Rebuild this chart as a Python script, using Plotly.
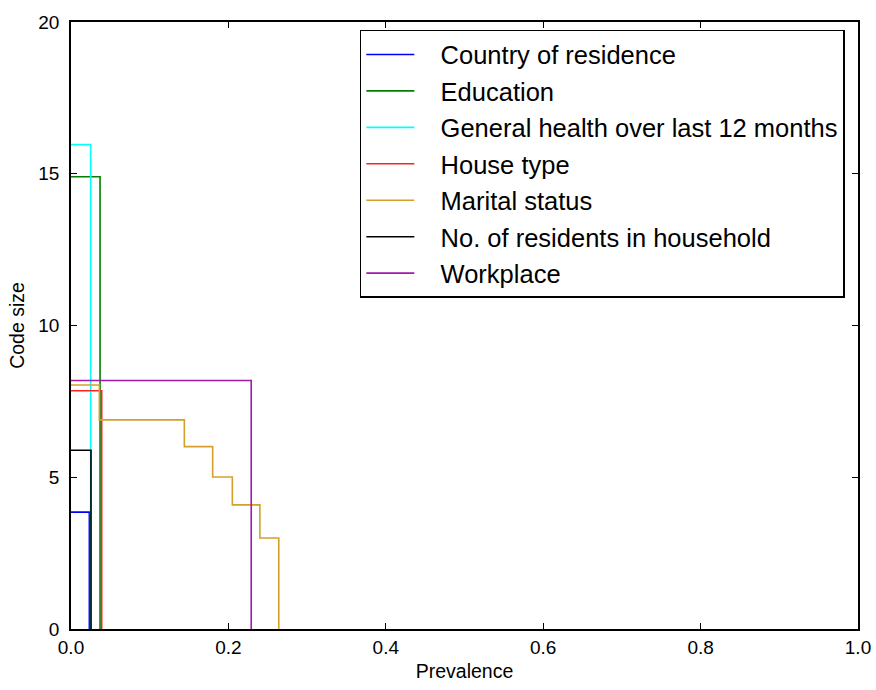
import plotly.graph_objects as go

# Series: code-size levels and cumulative-prevalence breakpoints
names = [
    "Country of residence",
    "Education",
    "General health over last 12 months",
    "House type",
    "Marital status",
    "No. of residents in household",
    "Workplace",
]
colors = ["#0000ff", "#008000", "#00ffff", "#ff2020", "#d4a02a", "#000000", "#a11aa8"]

country_levels = [3.85]
country_breaks = [0.0233]
education_levels = [14.9]
education_breaks = [0.0369]
health_levels = [15.96]
health_breaks = [0.025]
house_levels = [7.85]
house_breaks = [0.039]
marital_levels = [8.04, 6.89, 6.01, 5.01, 4.09, 3.0]
marital_breaks = [0.036, 0.144, 0.180, 0.205, 0.240, 0.264]
residents_levels = [5.89]
residents_breaks = [0.0254]
workplace_levels = [8.19]
workplace_breaks = [0.229]

series = [
    (country_levels, country_breaks),
    (education_levels, education_breaks),
    (health_levels, health_breaks),
    (house_levels, house_breaks),
    (marital_levels, marital_breaks),
    (residents_levels, residents_breaks),
    (workplace_levels, workplace_breaks),
]

x_ticks = [0.0, 0.2, 0.4, 0.6, 0.8, 1.0]
x_ticklabels = ["0.0", "0.2", "0.4", "0.6", "0.8", "1.0"]
y_ticks = [0, 5, 10, 15, 20]

PAD = "\u00a0\u00a0\u00a0"

fig = go.Figure()
for i, (name, color, (levels, breaks)) in enumerate(zip(names, colors, series)):
    xs = [0.0] + breaks
    ys = levels + [0.0]
    fig.add_trace(go.Scatter(
        x=xs, y=ys, mode="lines", name=PAD + name,
        line=dict(color=color, width=1.6, shape="hv"),
        legendgroup=f"g{i}",
    ))

font_family = "Liberation Sans, Arial, sans-serif"
fig.update_layout(
    width=876, height=690,
    margin=dict(l=71, r=18, t=22, b=61),
    paper_bgcolor="white", plot_bgcolor="white",
    font=dict(family=font_family, size=19, color="black"),
    showlegend=True,
    legend=dict(
        x=0.367, y=0.987, xanchor="left", yanchor="top",
        bordercolor="black", borderwidth=1.5,
        font=dict(size=25.5, family=font_family, color="black"),
        tracegroupgap=0.3,
        itemwidth=48,
        bgcolor="white",
    ),
    xaxis=dict(
        range=[0, 1], tickvals=x_ticks, ticktext=x_ticklabels,
        ticks="inside", ticklen=6, tickwidth=1, tickcolor="black",
        showline=True, linecolor="black", linewidth=1.5, mirror="allticks",
        showgrid=False, zeroline=False, automargin=False,
        title=dict(text="Prevalence", font=dict(size=19.5), standoff=8),
        tickfont=dict(size=19),
    ),
    yaxis=dict(
        range=[0, 20], tickvals=y_ticks,
        ticks="inside", ticklen=6, tickwidth=1, tickcolor="black",
        showline=True, linecolor="black", linewidth=1.5, mirror="allticks",
        showgrid=False, zeroline=False, automargin=False,
        ticklabelstandoff=6,
        title=dict(text="Code size", font=dict(size=19.5), standoff=8),
        tickfont=dict(size=19),
    ),
)

fig.write_html(
    "out.html",
    config={"displayModeBar": False},
    post_script="document.body.style.margin='0';document.body.style.overflow='hidden';",
)
